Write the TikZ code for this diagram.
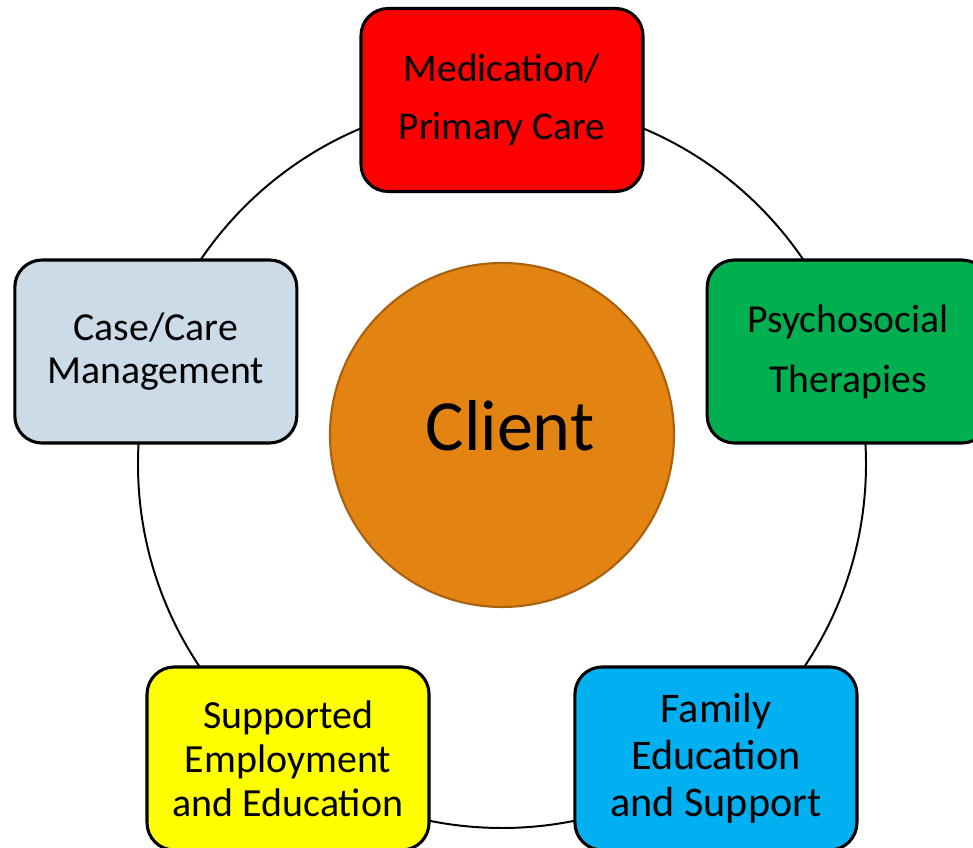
\documentclass[tikz,border=0pt]{standalone}
\usepackage{fontspec}
\setmainfont{Carlito}
\definecolor{medred}{HTML}{FF0000}
\definecolor{psygreen}{HTML}{00B050}
\definecolor{casegray}{HTML}{CBDCE8}
\definecolor{empyellow}{HTML}{FFFF00}
\definecolor{famblue}{HTML}{00B0F0}
\definecolor{clientfill}{HTML}{E38312}
\definecolor{clientline}{HTML}{A8620F}
\begin{document}
\begin{tikzpicture}[
    svcbox/.style={draw,line width=2.2pt,rounded corners=0.68cm,minimum width=7.05cm,minimum height=4.575cm,align=center,inner sep=0pt}]
    \useasboundingbox (-12.55,-9.6) rectangle (11.775,11.6);
    % ring behind the five services
    \draw[line width=1.4pt] (0,0) circle (9.1cm);
    \node[svcbox,fill=medred,font=\fontsize{28}{41.5}\selectfont] (med) at (90:9.1) {Medication/\\Primary Care};
    \node[svcbox,fill=psygreen,font=\fontsize{28.2}{42.7}\selectfont] (psy) at (18:9.1) {Psychosocial\\Therapies};
    \node[svcbox,fill=famblue,font=\fontsize{30}{33.4}\selectfont] (fam) at (-54:9.1) {Family\\Education\\and Support};
    \node[svcbox,fill=empyellow,font=\fontsize{28.4}{31.3}\selectfont] (emp) at (-126:9.1) {Supported\\Employment\\and Education};
    \node[svcbox,fill=casegray,font=\fontsize{28.3}{30.6}\selectfont] (case) at (162:9.1) {Case/Care\\Management};
    \node[circle,draw=clientline,line width=1.5pt,fill=clientfill,minimum size=8.6cm,text depth=0.5cm,font=\fontsize{51.3}{60}\selectfont] (client) at (0,0.725) {\hspace{0.4cm}Client};
\end{tikzpicture}
\end{document}
